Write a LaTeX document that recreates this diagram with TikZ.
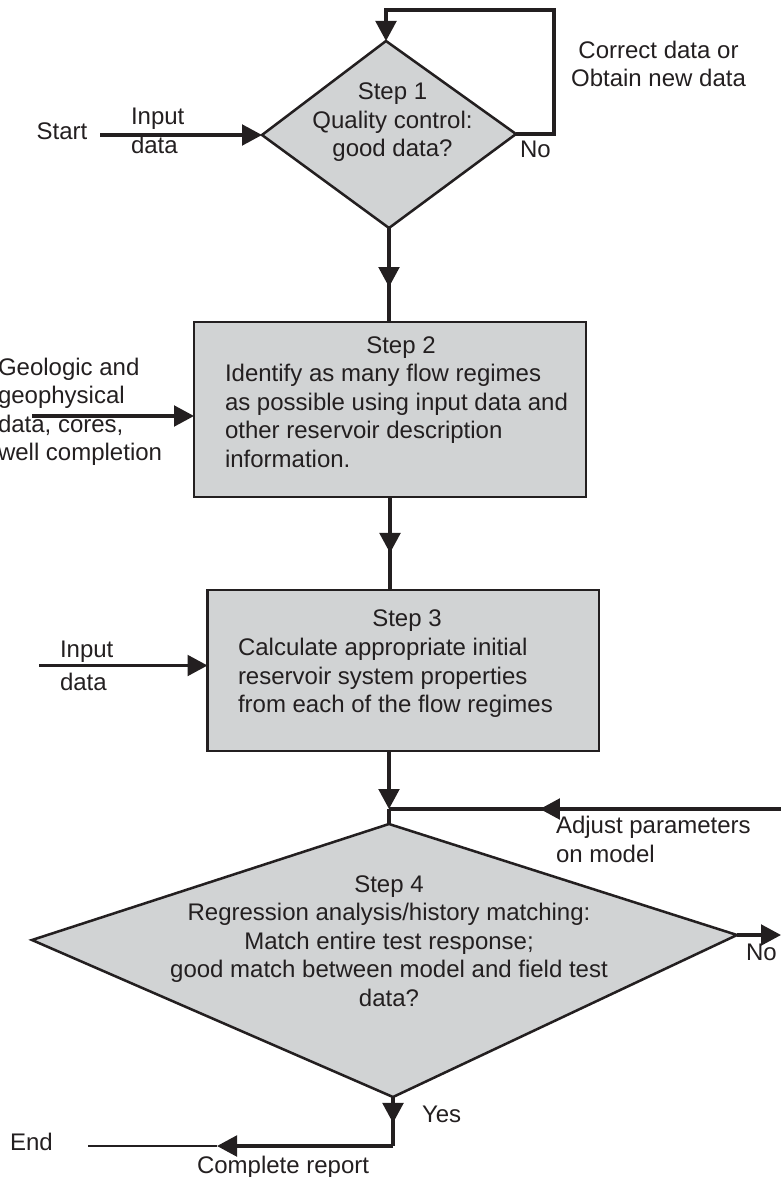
\documentclass[tikz,border=0pt]{standalone}
\usepackage{fontspec}
\setmainfont{Liberation Sans}
\usetikzlibrary{arrows.meta,decorations.markings}
\definecolor{ink}{HTML}{231F20}
\definecolor{boxgray}{HTML}{D1D3D4}
\newcommand\cblock[1]{\vtop{\halign{\hfil##\hfil\cr#1\crcr}}}
\newcommand\lblock[1]{\vtop{\halign{##\hfil\cr#1\crcr}}}
\tikzset{
  Tri/.tip={Triangle[length=15pt,width=15.5pt]},
  txt/.style={inner sep=0pt, outer sep=0pt, text=ink, font=\fontsize{18}{21.45}\selectfont},
  stepbox/.style={draw=ink, fill=boxgray, line width=1.9pt, inner sep=0pt, outer sep=0pt},
  decision/.style={draw=ink, fill=boxgray, line width=1.9pt, line join=miter},
  conn/.style={draw=ink, color=ink, line width=2.4pt},
  thinconn/.style={draw=ink, color=ink, line width=1.6pt},
  midarrow/.style={postaction={decorate}, decoration={markings, mark=at position #1 with {\arrow{Tri}}}},
}
\begin{document}
\begin{tikzpicture}[x=0.75pt,y=-0.75pt]
\useasboundingbox (0,0) rectangle (781,1177);
% ---- shapes
\coordinate (d1t) at (386,41);
\coordinate (d1r) at (516,134);
\coordinate (d1b) at (389,228);
\coordinate (d1l) at (262,135);
\draw[decision] (d1t) -- (d1r) -- (d1b) -- (d1l) -- cycle;
\node[stepbox, minimum width=294pt, minimum height=131.25pt] (s2) at (390,409.5) {};
\node[stepbox, minimum width=293.6pt, minimum height=120.75pt] (s3) at (403.25,670.5) {};
\coordinate (d4t) at (389,824);
\coordinate (d4r) at (737,935);
\coordinate (d4b) at (393,1097);
\coordinate (d4l) at (32,940);
\draw[decision] (d4t) -- (d4r) -- (d4b) -- (d4l) -- cycle;
% ---- free ends
\coordinate (loopTR) at (554,10);
\coordinate (startL) at (100,135);
\coordinate (geoL) at (32,416);
\coordinate (inL) at (39,665.5);
\coordinate (junc) at (389,809);
\coordinate (adjR) at (781,809);
\coordinate (noR) at (781,935);
\coordinate (corner) at (393,1146);
\coordinate (repTip) at (217,1146);
\coordinate (endL) at (88,1146);
% ---- connectors
\draw[conn,-{Tri}] (d1r) -| (loopTR) -| (d1t);
\draw[conn,-{Tri}] (startL) -- (d1l);
\draw[conn, midarrow=0.628] (d1b) -- (d1b |- s2.north);
\draw[conn,-{Tri}] (geoL) -- (geoL -| s2.west);
\draw[conn, midarrow=0.602] (s2.south) -- (s2.south |- s3.north);
\draw[conn,-{Tri}] (inL) -- (inL -| s3.west);
\draw[conn,-{Tri}] (junc |- s3.south) -- (junc);
\draw[conn] (junc) -- (d4t);
\draw[conn, midarrow=0.615] (adjR) -- (junc);
\draw[conn,-{Tri}] (d4r) -- (noR);
\draw[conn, midarrow=0.53] (d4b) -- (corner);
\draw[conn,-{Tri}] (corner) -- (repTip);
\draw[thinconn] (repTip) -- (endL);
% ---- texts
\node[txt, anchor=base] (tcorr) at (658.5,58.3) {\cblock{Correct data or\cr Obtain new data}};
\node[txt, anchor=base] (tstart) at (62,140) {Start};
\node[txt, anchor=base west] (tin1) at (131,125) {\lblock{Input\cr data}};
\node[txt, anchor=base] (ts1) at (392.5,99.5) {\cblock{Step 1\cr Quality control:\cr good data?}};
\node[txt, anchor=base west] (tno1) at (520,157) {No};
\node[txt, anchor=base west] (tgeo) at (-2,375) {\lblock{Geologic and\cr geophysical\cr data, cores,\cr well completion}};
\node[txt, anchor=base] (ts2t) at (401,353) {Step 2};
\node[txt, anchor=base west] (ts2b) at (225,381.5) {\lblock{Identify as many flow regimes\cr as possible using input data and\cr other reservoir description\cr information.}};
\node[txt, anchor=base] (ts3t) at (407,626) {Step 3};
\node[txt, anchor=base west] (ts3b) at (238,655.5) {\lblock{Calculate appropriate initial\cr reservoir system properties\cr from each of the flow regimes}};
\node[txt, anchor=base west] (tin3) at (60,657) {\lblock{Input\cr\noalign{\vskip 4pt} data}};
\node[txt, anchor=base west] (tadj) at (556,833) {\lblock{Adjust parameters\cr\noalign{\vskip 1pt} on model}};
\node[txt, anchor=base] (ts4) at (389,892) {\cblock{Step 4\cr Regression analysis/history matching:\cr Match entire test response;\cr good match between model and field test\cr data?}};
\node[txt, anchor=base west] (tno4) at (746,960) {No};
\node[txt, anchor=base west] (tyes) at (422,1122) {Yes};
\node[txt, anchor=base west] (tend) at (10,1150) {End};
\node[txt, anchor=base west] (trep) at (197,1173) {Complete report};
\end{tikzpicture}
\end{document}
